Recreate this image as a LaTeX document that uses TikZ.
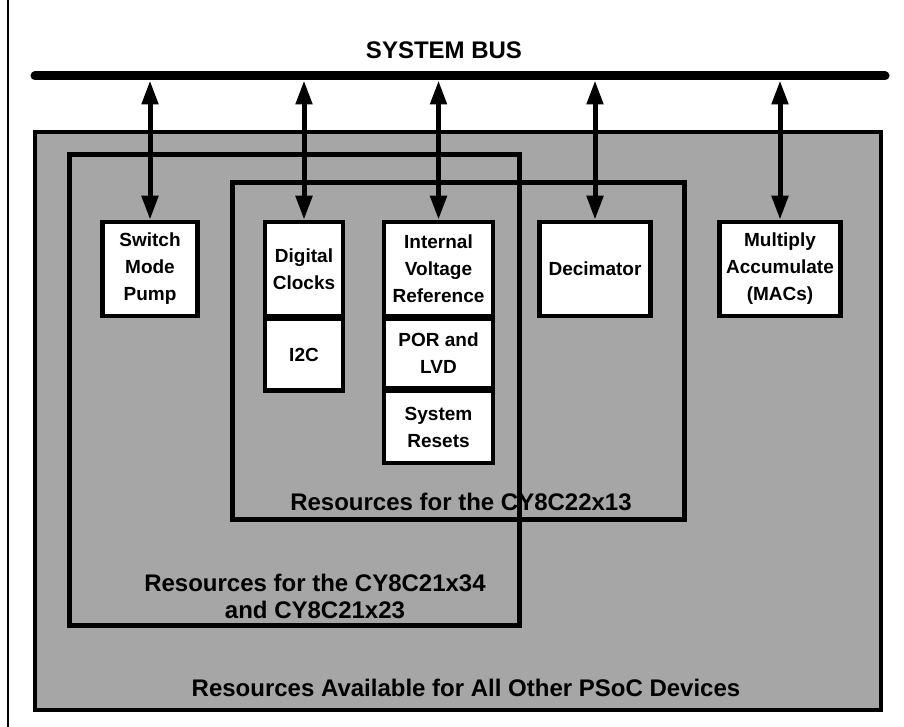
\documentclass[tikz,border=0pt]{standalone}
\usepackage{fontspec}
\setmainfont{Liberation Sans}
\usetikzlibrary{arrows.meta,positioning}
\begin{document}
\begin{tikzpicture}[x=1pt,y=-1pt,
	blk/.style={draw,fill=white,line width=4.5pt,align=center,inner sep=2pt,
		font=\fontsize{19}{27}\selectfont\bfseries},
	region/.style={line width=4.5pt},
	lbl/.style={align=center,font=\fontsize{24}{27}\selectfont\bfseries},
	busarrow/.style={line width=5pt,
		{Triangle[width=16pt,length=24pt]}-{Triangle[width=16pt,length=24pt]}}]
			\useasboundingbox (0,0) rectangle (904,727);
			\draw[line width=1.5pt] (8,0) -- (8,727);
			% device regions
			\draw[region,fill=black!35] (35,132) rectangle (881,710);
			\draw[region] (69.5,154.5) rectangle (519.5,625.5);
			\draw[region] (232.5,182.5) rectangle (684.5,519.5);
			% system bus
			\node[lbl] (buslbl) at (444,50) {SYSTEM BUS};
			\coordinate (busl) at (35,76);
			\coordinate (busr) at (885,76);
			\draw[line width=9pt,line cap=round] (busl) -- (busr);
			% blocks
			\node[blk,minimum width=95pt,minimum height=94pt] (swpump) at (150,269) {Switch\\Mode\\Pump};
			\node[blk,minimum width=78pt,minimum height=94pt] (dclk) at (304,269) {Digital\\Clocks};
			\node[blk,minimum width=78pt,minimum height=72pt,below=-2pt of dclk] (itwoc) {I2C};
			\node[blk,minimum width=109pt,minimum height=94pt] (ivr) at (438.5,269) {Internal\\Voltage\\Reference};
			\node[blk,minimum width=109pt,minimum height=70pt,below=-2pt of ivr] (porlvd) {POR and\\LVD};
			\node[blk,minimum width=109pt,minimum height=72pt,below=-2pt of porlvd] (sysres) {System\\Resets};
			\node[blk,minimum width=111pt,minimum height=94pt] (decim) at (595,269) {Decimator};
			\node[blk,minimum width=121pt,minimum height=94pt] (macs) at (780,269) {Multiply\\Accumulate\\(MACs)};
			% bus connections
			\foreach \b in {swpump,dclk,ivr,decim,macs}
				\draw[busarrow] ([yshift=-4.5pt]\b.north |- busl) -- (\b.north);
			% region labels
			\node[lbl] (lbltwo) at (461,502) {Resources for the CY8C22x13};
			\node[lbl] (lblone) at (315,596) {Resources for the CY8C21x34\\and CY8C21x23};
			\node[lbl] (lblall) at (466,688) {Resources Available for All Other PSoC Devices};
		\end{tikzpicture}
\end{document}
